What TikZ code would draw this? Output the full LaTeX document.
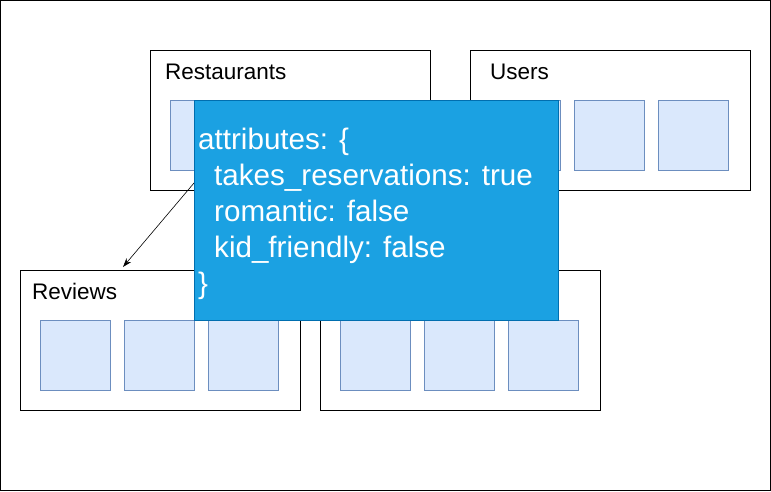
\documentclass[tikz,border=0pt]{standalone}
\usepackage{fontspec}
\setmainfont{Liberation Sans}
\usetikzlibrary{arrows.meta}
\definecolor{recordfill}{HTML}{DAE8FC}
\definecolor{recordline}{HTML}{6C8EBF}
\definecolor{notefill}{HTML}{1BA1E2}
\definecolor{noteline}{HTML}{006EAF}
\begin{document}
\begin{tikzpicture}[x=1pt,y=-1pt,
            table/.style={draw=black, fill=white, line width=1pt, minimum width=280pt,
              minimum height=140pt, anchor=north west, inner sep=0pt, outer sep=0pt},
            record/.style={draw=recordline, fill=recordfill, line width=0.8pt, minimum width=70pt,
              minimum height=70pt, anchor=north west, inner sep=0pt, outer sep=0pt},
            title/.style={font=\fontsize{22.5}{27}\selectfont, anchor=base west, inner sep=0pt},
            note/.style={draw=noteline, fill=notefill, line width=0.8pt, minimum width=364pt,
              minimum height=220pt, anchor=north west, inner sep=0pt, outer sep=0pt}]
  \useasboundingbox (0,0) rectangle (771,491);
  \draw[line width=1pt] (0.5,0.5) rectangle (770,490);
  % tables
  \node[table] (restaurants) at (150,50) {};
  \node[table] (users) at (470,50) {};
  \node[table] (reviews) at (20,270) {};
  \node[table] (other) at (320,270) {};
  \node[title] at (165,79) {Restaurants};
  \node[title] at (490,79) {Users};
  \node[title] at (32,299) {Reviews};
  % records
  \foreach \i in {1,2,3} {
    \node[record] (r\i) at (86+84*\i,100) {};
    \node[record] (u\i) at (406+84*\i,100) {};
    \node[record] (v\i) at (-44+84*\i,320) {};
    \node[record] (o\i) at (256+84*\i,320) {};
  }
  \coordinate (revtop) at (123,267);
  \draw[-{Stealth[length=9pt,width=6pt]}, line width=0.6pt] (r1.south) -- (revtop);
  % attributes note
  \node[note] (attr) at (194,100) {};
  \node[text=white, font=\fontsize{29.6}{36}\selectfont, align=left, anchor=north west,
        inner sep=0pt] (attrtext) at (198,128)
    {attributes: \{\\
     \hspace*{16pt}takes\_reservations: true\\
     \hspace*{16pt}romantic: false\\
     \hspace*{16pt}kid\_friendly: false\\
     \}};
\end{tikzpicture}
\end{document}
